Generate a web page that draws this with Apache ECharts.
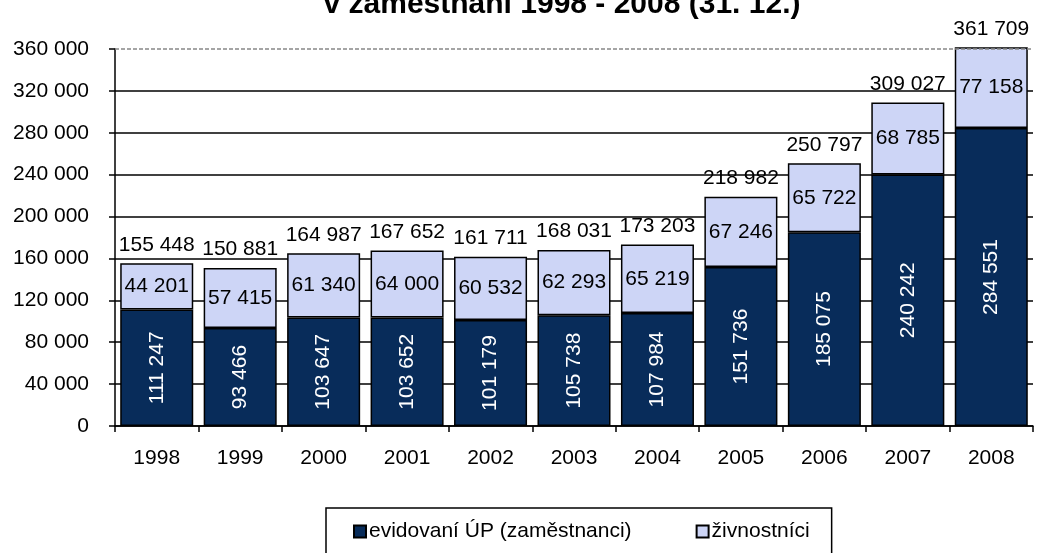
<!DOCTYPE html>
<html>
<head>
<meta charset="utf-8">
<script src="https://cdn.jsdelivr.net/npm/echarts@6/dist/echarts.min.js"></script>
<style>
html,body{margin:0;padding:0;background:#fff;}
#chart{width:1041px;height:553px;}
</style>
</head>
<body>
<div id="chart"></div>
<script>
const titleText = 'v zaměstnání 1998 - 2008 (31. 12.)';
const categories = ['1998','1999','2000','2001','2002','2003','2004','2005','2006','2007','2008'];
const evidovani = [111247, 93466, 103647, 103652, 101179, 105738, 107984, 151736, 185075, 240242, 284551];
const zivnostnici = [44201, 57415, 61340, 64000, 60532, 62293, 65219, 67246, 65722, 68785, 77158];
const totals = [155448, 150881, 164987, 167652, 161711, 168031, 173203, 218982, 250797, 309027, 361709];
const seriesNames = ['evidovaní ÚP (zaměstnanci)', 'živnostníci'];
const yMin = 0, yMax = 360000, yStep = 40000;

function fmt(v){ return String(v).replace(/\B(?=(\d{3})+(?!\d))/g, ' '); }

const FONT = '"Liberation Sans", Arial, sans-serif';
const FS = 21;

const chart = echarts.init(document.getElementById('chart'), null, {renderer:'canvas'});
chart.setOption({
  animation: false,
  backgroundColor: '#ffffff',
  textStyle: {fontFamily: FONT},
  title: {
    text: titleText,
    left: 562, textAlign: 'center',
    top: -10, padding: 0,
    textStyle: {fontFamily: FONT, fontSize: 30, fontWeight: 'bold', color: '#000'}
  },
  legend: {
    left: 326, top: 508,
    padding: [13, 22, 40, 27],
    borderColor: '#000', borderWidth: 1.5,
    itemWidth: 12, itemHeight: 12, itemGap: 64,
    icon: 'rect',
    textStyle: {fontFamily: FONT, fontSize: FS, color: '#000', padding: [0,0,0,-2]},
    data: seriesNames
  },
  grid: {left: 115, right: 8, top: 49, bottom: 127, containLabel: false},
  xAxis: {
    type: 'category', data: categories,
    axisLine: {lineStyle: {color: '#000', width: 1.5}},
    axisTick: {show: true, length: 6, lineStyle: {color: '#000', width: 1.5}},
    axisLabel: {fontFamily: FONT, fontSize: FS, color: '#000', margin: 22}
  },
  yAxis: {
    type: 'value', min: yMin, max: yMax, interval: yStep,
    axisLine: {show: true, lineStyle: {color: '#000', width: 1.5}},
    axisTick: {show: true, length: 6, lineStyle: {color: '#000', width: 1.5}},
    axisLabel: {fontFamily: FONT, fontSize: FS, color: '#000', margin: 26, formatter: v => fmt(v)},
    splitLine: {show: true, showMaxLine: false, lineStyle: {color: '#000', width: 1.5}}
  },
  series: [
    {
      name: seriesNames[0], type: 'bar', stack: 'a', data: evidovani,
      barCategoryGap: '12.5%', clip: false,
      itemStyle: {color: '#082c5a', borderColor: '#000', borderWidth: 1.5},
      label: {show: true, position: 'inside', rotate: 90, color: '#fff',
        fontFamily: FONT, fontSize: FS, formatter: p => fmt(p.value)},
      markLine: {
        silent: true, symbol: 'none', label: {show: false},
        lineStyle: {color: '#888', type: [4, 2], width: 1.5},
        data: [{yAxis: yMax}]
      }
    },
    {
      name: seriesNames[1], type: 'bar', stack: 'a', data: zivnostnici,
      clip: false,
      itemStyle: {color: '#cdd5f6', borderColor: '#000', borderWidth: 1.5},
      label: {show: true, position: 'inside', color: '#000',
        fontFamily: FONT, fontSize: FS, formatter: p => fmt(p.value)}
    },
    {
      name: 'total', type: 'scatter', data: totals, symbolSize: 0, clip: false,
      silent: true, itemStyle: {opacity: 1},
      label: {show: true, position: 'top', distance: 8, color: '#000',
        fontFamily: FONT, fontSize: FS, formatter: p => fmt(p.value)}
    }
  ]
});
</script>
</body>
</html>
